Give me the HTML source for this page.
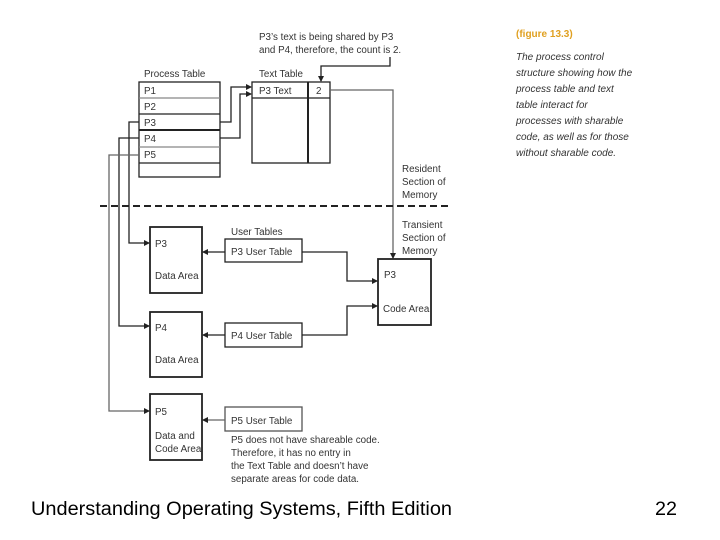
<!DOCTYPE html>
<html><head><meta charset="utf-8"><style>
html,body{margin:0;padding:0;background:#fff;}
svg{display:block;}
</style></head><body>
<svg width="720" height="540" viewBox="0 0 720 540" xmlns="http://www.w3.org/2000/svg">
<defs>
<marker id="a" markerWidth="6" markerHeight="6" refX="5" refY="3" orient="auto" markerUnits="userSpaceOnUse"><path d="M0,0 L6,3 L0,6 z" fill="#222"/></marker>
</defs>
<g font-family="Liberation Sans, sans-serif" font-size="9.8" fill="#333">
<text x="259" y="40">P3’s text is being shared by P3</text>
<text x="259" y="53">and P4, therefore, the count is 2.</text>
<text x="144" y="77">Process Table</text>
<text x="259" y="77">Text Table</text>
<text x="144" y="94">P1</text><text x="144" y="110">P2</text><text x="144" y="126">P3</text><text x="144" y="142">P4</text><text x="144" y="158">P5</text>
<text x="259" y="94">P3 Text</text><text x="316" y="94">2</text>
<text x="402" y="172">Resident</text><text x="402" y="185">Section of</text><text x="402" y="198">Memory</text>
<text x="402" y="228">Transient</text><text x="402" y="241">Section of</text><text x="402" y="254">Memory</text>
<text x="231" y="235">User Tables</text>
<text x="231" y="255">P3 User Table</text>
<text x="231" y="339">P4 User Table</text>
<text x="231" y="424">P5 User Table</text>
<text x="155" y="247">P3</text><text x="155" y="279">Data Area</text>
<text x="155" y="331">P4</text><text x="155" y="363">Data Area</text>
<text x="155" y="415">P5</text><text x="155" y="439">Data and</text><text x="155" y="452">Code Area</text>
<text x="384" y="278">P3</text><text x="383" y="312">Code Area</text>
<text x="231" y="443">P5 does not have shareable code.</text>
<text x="231" y="456">Therefore, it has no entry in</text>
<text x="231" y="469">the Text Table and doesn’t have</text>
<text x="231" y="482">separate areas for code data.</text>
</g>
<g font-family="Liberation Sans, sans-serif" font-size="10" font-style="italic" fill="#333">
<text x="516" y="37" fill="#e0a020" font-style="normal" font-weight="bold">(figure 13.3)</text>
<text x="516" y="60">The process control</text>
<text x="516" y="76">structure showing how the</text>
<text x="516" y="92">process table and text</text>
<text x="516" y="108">table interact for</text>
<text x="516" y="124">processes with sharable</text>
<text x="516" y="140">code, as well as for those</text>
<text x="516" y="156">without sharable code.</text>
</g>
<g fill="none" stroke="#222" stroke-width="1.3">
<rect x="139" y="82" width="81" height="95"/>
<line x1="139" y1="98" x2="220" y2="98" stroke="#888"/>
<line x1="139" y1="114" x2="220" y2="114"/>
<line x1="139" y1="130" x2="220" y2="130" stroke-width="2"/>
<line x1="139" y1="147" x2="220" y2="147" stroke="#888"/>
<line x1="139" y1="163" x2="220" y2="163"/>
<rect x="252" y="82" width="78" height="81"/>
<line x1="308" y1="82" x2="308" y2="163" stroke-width="2"/>
<line x1="252" y1="98" x2="330" y2="98"/>
<polyline points="220,122 231,122 231,87 251,87" marker-end="url(#a)"/>
<polyline points="220,138 240,138 240,94 251,94" marker-end="url(#a)"/>
<polyline points="390,57 390,66 321,66 321,81" marker-end="url(#a)"/>
<polyline points="330,90 393,90 393,258" stroke="#666" marker-end="url(#a)"/>
<line x1="100" y1="206" x2="452" y2="206" stroke-dasharray="7,4" stroke-width="2"/>
<polyline points="139,122 129,122 129,243 149,243" marker-end="url(#a)"/>
<polyline points="139,138 119,138 119,326 149,326" marker-end="url(#a)"/>
<polyline points="139,155 109,155 109,411 149,411" stroke="#666" marker-end="url(#a)"/>
<rect x="150" y="227" width="52" height="66" stroke-width="1.8"/>
<rect x="150" y="312" width="52" height="65" stroke-width="1.8"/>
<rect x="150" y="394" width="52" height="66" stroke-width="1.8"/>
<rect x="378" y="259" width="53" height="66" stroke-width="1.8"/>
<rect x="225" y="239" width="77" height="23"/>
<rect x="225" y="323" width="77" height="24"/>
<rect x="225" y="407" width="77" height="24" stroke="#555"/>
<line x1="225" y1="252" x2="203" y2="252" marker-end="url(#a)"/>
<line x1="225" y1="335" x2="203" y2="335" marker-end="url(#a)"/>
<line x1="225" y1="420" x2="203" y2="420" stroke="#666" marker-end="url(#a)"/>
<polyline points="302,252 347,252 347,281 377,281" marker-end="url(#a)"/>
<polyline points="302,335 347,335 347,306 377,306" marker-end="url(#a)"/>
</g>
<g font-family="Liberation Sans, Arial, sans-serif" font-size="19" fill="#000">
<text x="31" y="515" textLength="421" lengthAdjust="spacingAndGlyphs">Understanding Operating Systems, Fifth Edition</text>
<text x="655" y="515" textLength="22" lengthAdjust="spacingAndGlyphs">22</text>
</g>
</svg>
</body></html>
